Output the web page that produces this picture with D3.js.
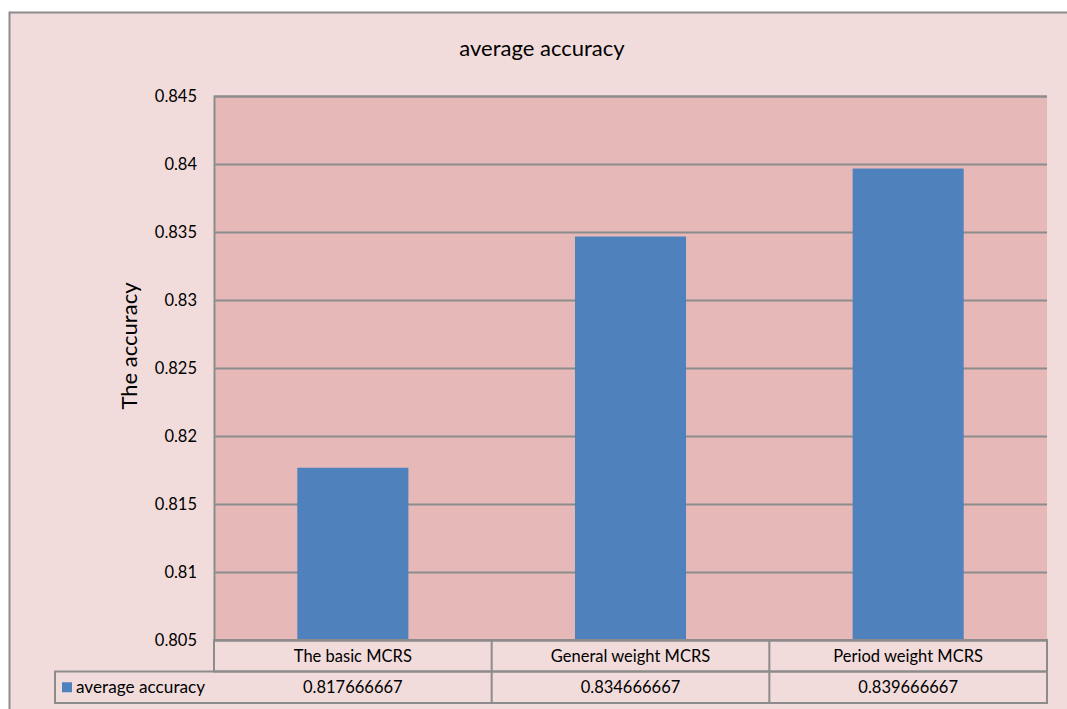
<!DOCTYPE html>
<html>
<head>
<meta charset="utf-8">
<script src="https://cdn.jsdelivr.net/npm/d3@7"></script>
<style>
  html, body { margin: 0; padding: 0; background: #F2DCDB; overflow: hidden; }
  svg { display: block; }
  text { font-family: Lato, "Open Sans", sans-serif; fill: #000; }
</style>
</head>
<body>
<svg id="chart" width="1067" height="709"></svg>
<script>
// Chart data
const categories = ["The basic MCRS", "General weight MCRS", "Period weight MCRS"];
const seriesName = "average accuracy";
const accuracy = [0.817666667, 0.834666667, 0.839666667];
const accuracyLabels = ["0.817666667", "0.834666667", "0.839666667"];
const yTicks = [0.805, 0.81, 0.815, 0.82, 0.825, 0.83, 0.835, 0.84, 0.845];
const yTickLabels = ["0.805", "0.81", "0.815", "0.82", "0.825", "0.83", "0.835", "0.84", "0.845"];

const W = 1067, H = 709;
const plot = { left: 214, right: 1047, top: 96, bottom: 640 };
const rowH = 31.5;
const legendLeft = 55;
const gridStroke = "#8C8C8C";

const svg = d3.select("#chart");

// Chart area background and frame (top and left edges visible)
svg.append("rect")
  .attr("x", 0).attr("y", 0).attr("width", W).attr("height", H)
  .attr("fill", "#ffffff");
svg.append("rect")
  .attr("x", 9.5).attr("y", 12.5)
  .attr("width", W - 9.5).attr("height", H - 12.5)
  .attr("fill", "#F2DCDB");
svg.append("path")
  .attr("d", `M9.5,${H} V12.5 H${W}`)
  .attr("fill", "none")
  .attr("stroke", gridStroke).attr("stroke-width", 2);

// Scales
const x = d3.scaleBand()
  .domain(categories)
  .range([plot.left, plot.right])
  .paddingInner(0.6).paddingOuter(0.3);
const xCol = d3.scaleBand()
  .domain(categories)
  .range([plot.left, plot.right]);
const y = d3.scaleLinear()
  .domain([yTicks[0], yTicks[yTicks.length - 1]])
  .range([plot.bottom, plot.top]);

// Plot area
svg.append("rect")
  .attr("x", plot.left).attr("y", plot.top)
  .attr("width", plot.right - plot.left).attr("height", plot.bottom - plot.top)
  .attr("fill", "#E6B9B8");

// Gridlines and tick labels
const yAxis = d3.axisLeft(y)
  .tickValues(yTicks)
  .tickSize(-(plot.right - plot.left))
  .tickFormat((d, i) => yTickLabels[i]);
const gy = svg.append("g")
  .attr("transform", `translate(${plot.left},0)`)
  .call(yAxis);
gy.select(".domain").attr("stroke", gridStroke).attr("stroke-width", 2);
gy.selectAll(".tick line").attr("stroke", gridStroke).attr("stroke-width", 2);
gy.selectAll(".tick text")
  .attr("x", -17)
  .attr("font-size", 16.5)
  .attr("font-family", "Lato, 'Open Sans', sans-serif")
  .attr("fill", "#000");

// Bars
svg.append("g").selectAll("rect")
  .data(accuracy)
  .join("rect")
  .attr("x", (d, i) => x(categories[i]))
  .attr("y", d => y(d))
  .attr("width", x.bandwidth())
  .attr("height", d => y(yTicks[0]) - y(d))
  .attr("fill", "#4F81BD");

// Data table beneath the plot
const tbl = svg.append("g");
tbl.append("rect")
  .attr("x", plot.left).attr("y", plot.bottom)
  .attr("width", plot.right - plot.left).attr("height", rowH)
  .attr("fill", "none").attr("stroke", gridStroke).attr("stroke-width", 2);
tbl.append("rect")
  .attr("x", legendLeft).attr("y", plot.bottom + rowH)
  .attr("width", plot.right - legendLeft).attr("height", rowH)
  .attr("fill", "none").attr("stroke", gridStroke).attr("stroke-width", 2);
tbl.selectAll("line.col")
  .data(categories.slice(1))
  .join("line")
  .attr("class", "col")
  .attr("x1", d => xCol(d)).attr("x2", d => xCol(d))
  .attr("y1", plot.bottom).attr("y2", plot.bottom + 2 * rowH)
  .attr("stroke", gridStroke).attr("stroke-width", 2);

// category names
tbl.selectAll("text.cat")
  .data(categories)
  .join("text")
  .attr("class", "cat")
  .attr("x", d => xCol(d) + xCol.bandwidth() / 2)
  .attr("y", plot.bottom + rowH / 2)
  .attr("dy", "0.35em")
  .attr("text-anchor", "middle")
  .attr("font-size", 16.5)
  .text(d => d);
// values
tbl.selectAll("text.val")
  .data(accuracyLabels)
  .join("text")
  .attr("class", "val")
  .attr("x", (d, i) => xCol(categories[i]) + xCol.bandwidth() / 2)
  .attr("y", plot.bottom + rowH * 1.5)
  .attr("dy", "0.35em")
  .attr("text-anchor", "middle")
  .attr("font-size", 16.5)
  .text(d => d);
// legend key
tbl.append("rect")
  .attr("x", 62).attr("y", plot.bottom + rowH * 1.5 - 5)
  .attr("width", 10).attr("height", 10)
  .attr("fill", "#4F81BD");
tbl.append("text")
  .attr("x", 76)
  .attr("y", plot.bottom + rowH * 1.5)
  .attr("dy", "0.35em")
  .attr("font-size", 17.2)
  .text(seriesName);

// Title
svg.append("text")
  .attr("x", 542).attr("y", 56)
  .attr("text-anchor", "middle")
  .attr("font-size", 22)
  .text("average accuracy");

// Y axis title
svg.append("text")
  .attr("transform", `translate(137,346) rotate(-90)`)
  .attr("text-anchor", "middle")
  .attr("font-size", 22)
  .text("The accuracy");
</script>
</body>
</html>
